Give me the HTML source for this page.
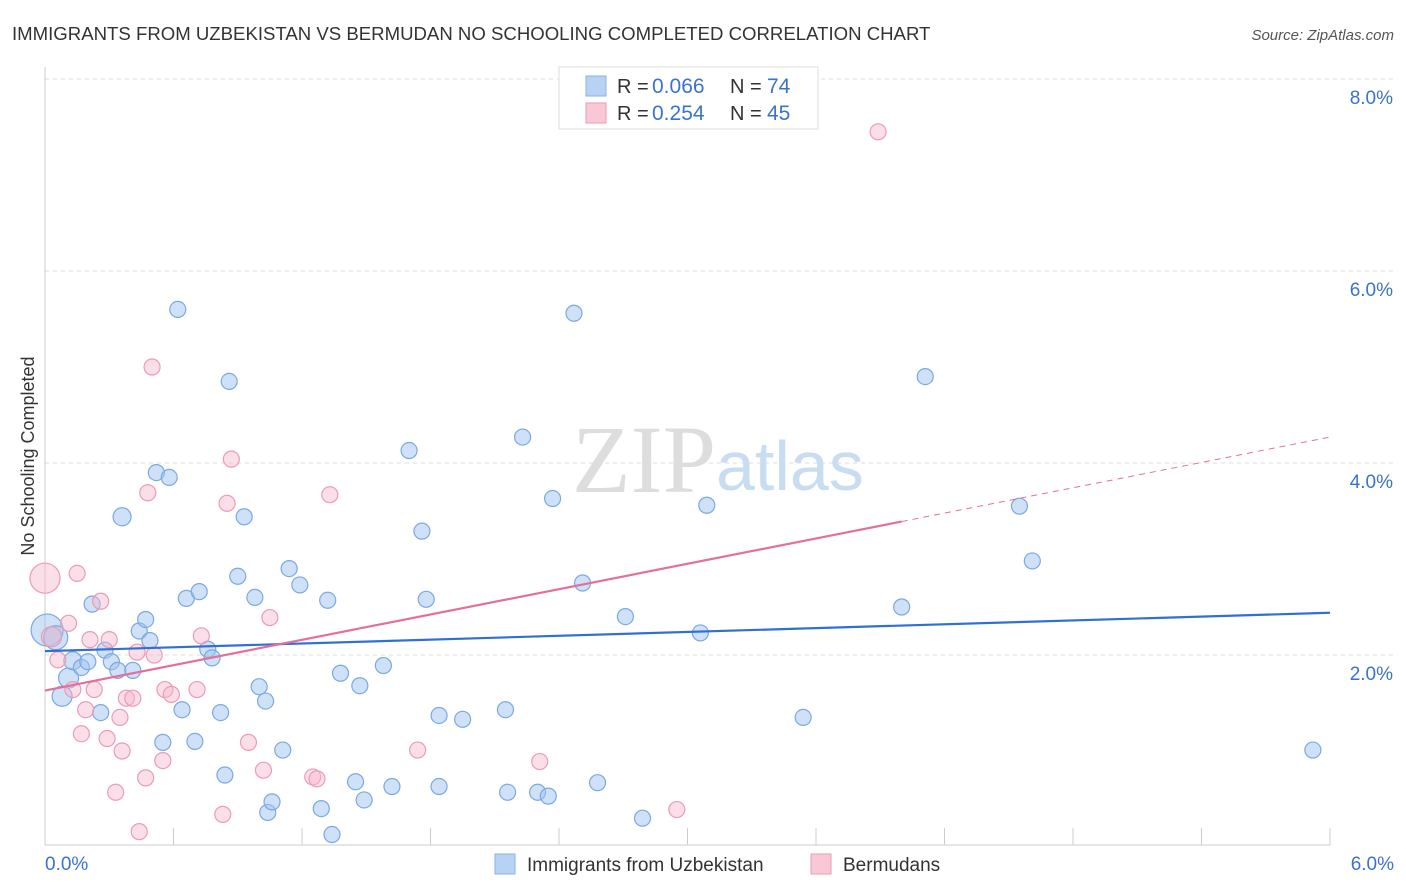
<!DOCTYPE html>
<html><head><meta charset="utf-8"><style>
body{margin:0;background:#fff;font-family:"Liberation Sans",sans-serif}
svg{display:block}
</style></head><body>
<svg id="c" width="1406" height="892" xmlns="http://www.w3.org/2000/svg">
<text x="12" y="40" font-size="18.6" fill="#333">IMMIGRANTS FROM UZBEKISTAN VS BERMUDAN NO SCHOOLING COMPLETED CORRELATION CHART</text>
<text x="1394" y="40" font-size="15" fill="#555" font-style="italic" text-anchor="end">Source: ZipAtlas.com</text>
<text x="34" y="456" font-size="18" fill="#333" text-anchor="middle" transform="rotate(-90 34 456)">No Schooling Completed</text>
<text x="716" y="492" font-size="96" fill="#ddd" text-anchor="end" font-family="Liberation Serif">ZIP</text>
<text x="716" y="490" font-size="70" fill="#c8dcf2">atlas</text>
<g id="grid"></g><g id="pts"></g><g id="lines"></g>
<g>
<rect x="559" y="67" width="259" height="62" fill="#fff" stroke="#ddd"/>
<rect x="586" y="76" width="20" height="20" fill="#b8d2f4" stroke="#8ab0e8"/>
<rect x="586" y="103" width="20" height="20" fill="#f8c8d6" stroke="#ee9ab4"/>
<text x="617" y="93" font-size="20" fill="#333">R =</text><text x="652" y="93" font-size="21" fill="#3b72d0">0.066</text>
<text x="730" y="93" font-size="20" fill="#333">N =</text><text x="767" y="93" font-size="21" fill="#3b72d0">74</text>
<text x="617" y="120" font-size="20" fill="#333">R =</text><text x="652" y="120" font-size="21" fill="#3b72d0">0.254</text>
<text x="730" y="120" font-size="20" fill="#333">N =</text><text x="767" y="120" font-size="21" fill="#3b72d0">45</text>
</g>
<g>
<rect x="495" y="854" width="20" height="20" fill="#b8d2f4" stroke="#8ab0e8"/>
<text x="527" y="871" font-size="19" fill="#333">Immigrants from Uzbekistan</text>
<rect x="811" y="854" width="20" height="20" fill="#f8c8d6" stroke="#ee9ab4"/>
<text x="843" y="871" font-size="19" fill="#333">Bermudans</text>
</g>
</svg>
<script>
const yTicks=[2,4,6,8];
const xTickLabels=["0.0%","6.0%"];
const blueX=[0.01,0.05,0.08,0.11,0.13,0.17,0.2,0.22,0.26,0.28,0.31,0.34,0.36,0.41,0.44,0.47,0.49,0.52,0.55,0.58,0.62,0.64,0.66,0.7,0.72,0.76,0.78,0.82,0.84,0.86,0.9,0.93,0.98,1.0,1.03,1.04,1.06,1.11,1.14,1.19,1.29,1.32,1.34,1.38,1.45,1.47,1.49,1.58,1.62,1.7,1.76,1.78,1.84,1.84,1.95,2.15,2.16,2.23,2.3,2.35,2.37,2.47,2.51,2.58,2.71,2.79,3.06,3.09,3.54,4.0,4.11,4.55,4.61,5.92];
const blueY=[2.26,2.18,1.57,1.76,1.94,1.87,1.93,2.53,1.4,2.05,1.93,1.84,3.44,1.84,2.25,2.37,2.15,3.9,1.09,3.85,5.6,1.43,2.59,1.1,2.66,2.06,1.97,1.4,0.75,4.85,2.82,3.44,2.6,1.67,1.52,0.36,0.47,1.01,2.9,2.73,0.4,2.57,0.13,1.81,0.68,1.68,0.49,1.89,0.63,4.13,3.29,2.58,1.37,0.63,1.33,1.43,0.57,4.27,0.57,0.53,3.63,5.56,2.75,0.67,2.4,0.3,2.23,3.56,1.35,2.5,4.9,3.55,2.98,1.01];
const blueR=[16,12,10,10,9,8,8,8,8,8,8,8,9,8,8,8,8,8,8,8,8,8,8,8,8,8,8,8,8,8,8,8,8,8,8,8,8,8,8,8,8,8,8,8,8,8,8,8,8,8,8,8,8,8,8,8,8,8,8,8,8,8,8,8,8,8,8,8,8,8,8,8,8,8];
const pinkX=[0.0,0.03,0.06,0.11,0.13,0.15,0.17,0.19,0.21,0.23,0.26,0.29,0.3,0.33,0.35,0.36,0.38,0.41,0.43,0.44,0.47,0.48,0.5,0.51,0.55,0.56,0.59,0.71,0.73,0.83,0.85,0.87,0.95,1.02,1.05,1.25,1.27,1.33,1.74,2.31,2.95,3.89];
const pinkY=[2.8,2.19,1.95,2.33,1.64,2.85,1.18,1.43,2.16,1.64,2.56,1.13,2.16,0.57,1.35,1.0,1.55,1.55,2.03,0.16,0.72,3.69,5.0,2.0,0.9,1.64,1.59,1.64,2.2,0.34,3.58,4.04,1.09,0.8,2.39,0.73,0.71,3.67,1.01,0.89,0.39,7.45];
const pinkR=[15,10,8,8,8,8,8,8,8,8,8,8,8,8,8,8,8,8,8,8,8,8,8,8,8,8,8,8,8,8,8,8,8,8,8,8,8,8,8,8,8,8];
const blueTrend=[0.0,2.04,6.0,2.44];
const pinkTrend=[0.0,1.63,4.0,3.39,6.0,4.27];
const X=v=>45+v/6*1285, Y=v=>847-v*96;
const NS="http://www.w3.org/2000/svg";
function mk(t,a,p){const e=document.createElementNS(NS,t);for(const k in a)e.setAttribute(k,a[k]);p.appendChild(e);return e;}
const g=document.getElementById('grid');
yTicks.forEach(t=>{const l=mk('line',{x1:45,x2:1394,y1:Y(t),y2:Y(t),stroke:'#ddd','stroke-dasharray':'4,4'},g);


const tx=mk('text',{x:1393,y:Y(t)+25,'font-size':19,fill:'#3b72d0','text-anchor':'end'},g);tx.textContent=t.toFixed(1)+'%';

});
mk('line',{x1:45,x2:45,y1:67,y2:845,stroke:'#ccc'},g);
mk('line',{x1:45,x2:1330,y1:845,y2:845,stroke:'#ccc'},g);
for(let i=0;i<=10;i++){mk('line',{x1:X(i*0.6),x2:X(i*0.6),y1:828,y2:845,stroke:'#ccc'},g);}
const xl=[0,6];xl.forEach((v,i)=>{const tx=mk('text',{x:i?1394:45,y:870,'font-size':19,fill:'#3b72d0','text-anchor':i?'end':'start'},g);tx.textContent=xTickLabels[i];

});
const p=document.getElementById('pts');
blueX.forEach((v,i)=>{const c=mk('circle',{cx:X(v),cy:Y(blueY[i]),r:blueR[i]||8,fill:'rgba(160,196,240,0.5)',stroke:'#7aa8e4','stroke-width':1.2},p);

});
pinkX.forEach((v,i)=>{const c=mk('circle',{cx:X(v),cy:Y(pinkY[i]),r:pinkR[i]||8,fill:'rgba(246,184,204,0.45)',stroke:'#ee9ab4','stroke-width':1.2},p);

});
const L=document.getElementById('lines');
let b=mk('line',{x1:X(blueTrend[0]),y1:Y(blueTrend[1]),x2:X(blueTrend[2]),y2:Y(blueTrend[3]),stroke:'#2f6fd6','stroke-width':2.2},L);


let q=mk('line',{x1:X(pinkTrend[0]),y1:Y(pinkTrend[1]),x2:X(pinkTrend[2]),y2:Y(pinkTrend[3]),stroke:'#e4709a','stroke-width':2.2},L);


let d=mk('line',{x1:X(pinkTrend[2]),y1:Y(pinkTrend[3]),x2:X(pinkTrend[4]),y2:Y(pinkTrend[5]),stroke:'#e4709a','stroke-width':1,'stroke-dasharray':'6,5'},L);


</script>
</body></html>
